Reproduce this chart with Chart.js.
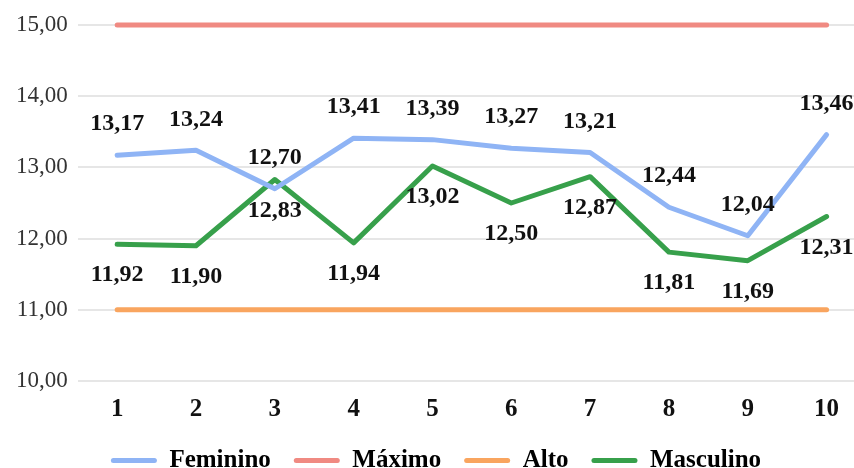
<!DOCTYPE html>
<html>
<head>
<meta charset="utf-8">
<script src="https://cdn.jsdelivr.net/npm/chart.js@4/dist/chart.umd.min.js"></script>
<style>
  html, body { margin: 0; padding: 0; background: #fff; overflow: hidden; }
  #wrap { width: 866px; height: 468px; }
</style>
</head>
<body>
<div id="wrap"><canvas id="chart"></canvas></div>
<script>
const categories = ['1', '2', '3', '4', '5', '6', '7', '8', '9', '10'];
const feminino = [13.17, 13.24, 12.70, 13.41, 13.39, 13.27, 13.21, 12.44, 12.04, 13.46];
const maximo = [15, 15, 15, 15, 15, 15, 15, 15, 15, 15];
const alto = [11, 11, 11, 11, 11, 11, 11, 11, 11, 11];
const masculino = [11.92, 11.90, 12.83, 11.94, 13.02, 12.50, 12.87, 11.81, 11.69, 12.31];
const yTicks = [10, 11, 12, 13, 14, 15];

const SERIF = '"Liberation Serif", "Times New Roman", serif';
const fmt = v => v.toFixed(2).replace('.', ',');

// value labels: Feminino above its line, Masculino below
const valueLabelPlugin = {
  id: 'valueLabelPlugin',
  afterDatasetsDraw(chart) {
    const { ctx } = chart;
    chart.data.datasets.forEach((dataset, i) => {
      if (!dataset.showValues) return;
      const meta = chart.getDatasetMeta(i);
      if (meta.hidden) return;
      meta.data.forEach((element, index) => {
        const value = dataset.data[index];
        if (value === undefined || value === null) return;
        const dy = dataset.showValues === 'above' ? -31 : 31;
        ctx.save();
        ctx.fillStyle = '#111';
        ctx.font = 'bold 24px ' + SERIF;
        ctx.textAlign = 'center';
        ctx.textBaseline = 'middle';
        ctx.fillText(fmt(value), element.x, element.y + dy);
        ctx.restore();
      });
    });
  },
};

Chart.register(valueLabelPlugin);

const line = (label, data, color, showValues) => ({
  label,
  data,
  borderColor: color,
  backgroundColor: color,
  borderWidth: 5,
  borderCapStyle: 'round',
  borderJoinStyle: 'round',
  pointRadius: 0,
  pointHoverRadius: 0,
  tension: 0,
  fill: false,
  clip: false,
  showValues,
});

new Chart(document.getElementById('chart'), {
  type: 'line',
  data: {
    labels: categories,
    datasets: [
      line('Feminino', feminino, '#8fb4f5', 'above'),
      line('Máximo', maximo, '#f08a82', null),
      line('Alto', alto, '#f9a55f', null),
      line('Masculino', masculino, '#37a04b', 'below'),
    ],
  },
  options: {
    responsive: true,
    maintainAspectRatio: false,
    animation: false,
    layout: { padding: { top: 25, left: 6, right: 0, bottom: -15 } },
    plugins: {
      tooltip: { enabled: false },
      legend: {
        display: true,
        position: 'bottom',
        labels: {
          boxWidth: 46,
          boxHeight: 5,
          padding: 23,
          useBorderRadius: true,
          borderRadius: 2.5,
          color: '#111',
          font: { family: SERIF, size: 25, weight: 'bold' },
          generateLabels(chart) {
            return chart.data.datasets.map((ds, i) => ({
              text: ds.label,
              fillStyle: ds.borderColor,
              strokeStyle: ds.borderColor,
              lineWidth: 0,
              borderRadius: 2.5,
              hidden: false,
              datasetIndex: i,
            }));
          },
        },
      },
    },
    scales: {
      x: {
        offset: true,
        grid: { display: false, drawTicks: false },
        border: { display: false },
        afterFit(scale) {
          scale.height = 44;
        },
        ticks: {
          color: '#111',
          padding: 14,
          font: { family: SERIF, size: 25, weight: 'bold' },
        },
      },
      y: {
        min: 10,
        max: 15,
        afterBuildTicks(axis) {
          axis.ticks = yTicks.map(v => ({ value: v }));
        },
        grid: { color: '#e6e6e6', lineWidth: 2, drawTicks: false },
        border: { display: false },
        ticks: {
          color: '#333',
          padding: 10,
          font: { family: SERIF, size: 23 },
          callback: v => fmt(v),
        },
      },
    },
  },
});
</script>
</body>
</html>
